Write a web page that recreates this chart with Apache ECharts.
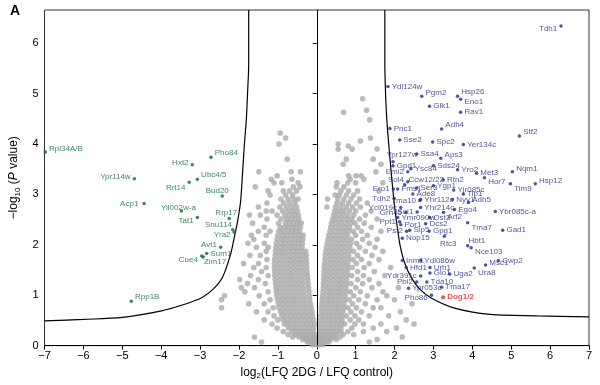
<!DOCTYPE html>
<html><head><meta charset="utf-8">
<script src="https://cdn.jsdelivr.net/npm/echarts@6/dist/echarts.min.js"></script>
<style>html,body{margin:0;padding:0;background:#fff}#c{width:600px;height:385px}</style>
</head><body><div id="c"></div>
<script>
// ---------- DATA ----------
const xTicks = [-7,-6,-5,-4,-3,-2,-1,0,1,2,3,4,5,6,7];
const yTicks = [0,1,2,3,4,5,6];

// threshold curves
const curveLeft = [[-1.75,6.66],[-1.75,5.6],[-1.78,5.0],[-1.81,4.5],[-1.86,4.0],[-1.91,3.4],[-1.96,2.85],[-2.04,2.45],[-2.12,2.15],[-2.22,1.8],[-2.42,1.36],[-2.65,1.13],[-2.96,0.95],[-3.48,0.80],[-3.99,0.69],[-5.0,0.56],[-6.0,0.52],[-7.0,0.49]];
const curveRight = [[1.75,6.66],[1.75,5.6],[1.77,5.0],[1.80,4.5],[1.85,4.0],[1.93,3.3],[2.01,2.7],[2.08,2.3],[2.15,1.96],[2.27,1.62],[2.44,1.34],[2.65,1.12],[2.93,0.95],[3.52,0.75],[4.46,0.62],[5.67,0.59],[7.0,0.57]];

// non-significant proteins, rows: [y, x1, x2, ...]
const grayRows = [
[0.02,-0.12,-0.05,0.02,0.09,0.15],
[0.07,-0.24,-0.16,-0.08,0.0,0.07,0.15,0.23,0.31,1.35,-1.42],
[0.12,-0.36,-0.27,-0.18,-0.09,0.0,0.09,0.18,0.27,0.36,0.50,1.55],
[0.17,-0.46,-0.36,-0.26,-0.16,-0.06,0.05,0.14,0.24,0.34,0.44,-0.62,0.60,2.2,-1.6],
[0.22,-0.56,-0.46,-0.35,-0.25,-0.14,-0.04,0.08,0.18,0.29,0.39,0.50,-0.74,0.68,0.95],
[0.28,-0.64,-0.53,-0.42,-0.31,-0.20,-0.09,0.08,0.19,0.30,0.41,0.52,0.62,-0.86,0.80,1.2,1.8],
[0.35,-0.73,-0.62,-0.51,-0.40,-0.29,-0.18,-0.08,0.07,0.18,0.29,0.40,0.51,0.62,-1.02,0.90,1.45,2.05],
[0.43,-0.83,-0.72,-0.60,-0.49,-0.38,-0.27,-0.16,-0.06,0.08,0.19,0.30,0.41,0.52,0.63,0.72,-1.15,0.98,1.20,1.65,2.5],
[0.51,-0.86,-0.75,-0.64,-0.53,-0.42,-0.31,-0.20,-0.08,0.10,0.21,0.32,0.43,0.54,0.65,-1.0,-1.35,0.86,1.08,2.3],
[0.59,-0.90,-0.79,-0.67,-0.56,-0.45,-0.34,-0.22,-0.11,0.10,0.21,0.32,0.43,0.54,0.65,0.76,-1.10,0.98,1.35,1.85],
[0.67,-0.93,-0.82,-0.70,-0.59,-0.48,-0.36,-0.24,-0.12,0.12,0.23,0.34,0.45,0.56,0.67,-1.25,-1.55,0.88,1.15,2.15],
[0.75,-0.97,-0.85,-0.73,-0.62,-0.50,-0.39,-0.27,-0.14,0.12,0.23,0.34,0.46,0.57,0.69,0.80,-1.12,1.02,1.45,1.65,-2.45],
[0.83,-0.99,-0.88,-0.76,-0.64,-0.53,-0.41,-0.29,-0.16,0.13,0.25,0.36,0.47,0.58,0.70,-1.35,-1.75,0.92,1.25,2.45],
[0.91,-1.01,-0.90,-0.78,-0.66,-0.55,-0.43,-0.31,-0.18,0.14,0.26,0.37,0.48,0.60,0.72,0.83,-1.20,1.08,1.55,2.0,-2.45],
[0.99,-1.03,-0.91,-0.80,-0.68,-0.56,-0.44,-0.32,-0.19,0.15,0.27,0.38,0.50,0.61,0.73,-1.48,-2.37,0.95,1.30,1.8],
[1.07,-1.04,-0.93,-0.81,-0.69,-0.57,-0.45,-0.33,-0.20,0.16,0.28,0.39,0.51,0.62,0.74,0.86,-1.25,-1.85,1.12,1.70],
[1.15,-1.05,-0.94,-0.82,-0.70,-0.58,-0.46,-0.34,-0.21,0.17,0.29,0.40,0.52,0.63,0.75,-1.60,-1.94,1.00,1.42,2.1],
[1.23,-1.06,-0.95,-0.83,-0.71,-0.59,-0.47,-0.35,-0.22,0.17,0.29,0.41,0.53,0.64,0.76,0.88,-1.32,-1.78,1.18,1.6],
[1.31,-1.07,-0.95,-0.83,-0.71,-0.60,-0.48,-0.36,-0.23,0.18,0.30,0.42,0.54,0.65,0.77,-1.50,-1.98,1.05,1.35],
[1.39,-1.08,-0.96,-0.84,-0.72,-0.60,-0.48,-0.36,-0.24,0.18,0.30,0.42,0.54,0.66,0.78,0.90,-1.25,-1.70,1.20,1.75],
[1.47,-1.08,-0.96,-0.84,-0.72,-0.61,-0.49,-0.37,-0.25,0.19,0.31,0.43,0.55,0.67,0.79,-1.42,1.05,1.48],
[1.55,-1.09,-0.97,-0.85,-0.73,-0.61,-0.49,-0.37,-0.26,0.19,0.31,0.43,0.55,0.67,0.79,0.91,-1.30,-1.62,1.22,1.9],
[1.63,-1.09,-0.97,-0.85,-0.73,-0.61,-0.49,-0.38,-0.26,0.20,0.32,0.44,0.56,0.68,0.80,-1.50,-1.88,1.02,1.35],
[1.71,-1.08,-0.96,-0.84,-0.72,-0.61,-0.49,-0.38,-0.27,0.21,0.33,0.45,0.57,0.69,0.81,0.93,-1.28,1.15,1.6],
[1.79,-1.07,-0.95,-0.84,-0.72,-0.60,-0.49,-0.38,-0.27,0.22,0.34,0.46,0.58,0.70,0.82,-1.45,-1.72,1.05,1.42],
[1.87,-1.06,-0.94,-0.83,-0.71,-0.60,-0.49,-0.38,-0.28,0.23,0.35,0.47,0.59,0.71,0.83,0.95,-1.30,1.25,1.7],
[1.95,-1.05,-0.93,-0.82,-0.70,-0.59,-0.48,-0.38,0.25,0.37,0.49,0.61,0.73,0.85,-1.55,-1.25,1.10,1.5],
[2.03,-1.04,-0.92,-0.81,-0.69,-0.58,-0.47,-0.37,0.27,0.39,0.51,0.63,0.75,0.87,-1.35,1.02,1.35,-1.77],
[2.11,-1.02,-0.90,-0.79,-0.68,-0.57,-0.46,-0.36,0.29,0.41,0.53,0.65,0.77,0.89,-1.62,1.18,1.55],
[2.19,-1.00,-0.88,-0.77,-0.66,-0.56,-0.45,-0.35,0.31,0.43,0.55,0.67,0.79,-1.30,1.00,1.30,-1.68],
[2.27,-0.97,-0.86,-0.75,-0.64,-0.54,-0.44,0.34,0.46,0.58,0.70,0.82,0.94,-1.50,-1.20,1.15,1.65],
[2.35,-0.94,-0.83,-0.72,-0.62,-0.52,-0.42,0.36,0.48,0.60,0.72,0.84,-1.35,1.05,1.40],
[2.43,-0.98,-0.80,-0.70,-0.59,-0.49,-0.40,0.38,0.50,0.62,0.74,0.86,0.98,-1.65,1.22],
[2.51,-0.92,-0.78,-0.67,-0.56,-0.46,0.41,0.53,0.65,0.78,0.90,-1.28,1.10,1.55],
[2.59,-1.02,-0.82,-0.70,-0.58,-0.47,0.44,0.56,0.68,0.80,0.95,-1.45,1.25,-1.73],
[2.67,-0.88,-0.74,-0.62,-0.50,0.46,0.58,0.70,0.84,1.00,-1.30,-1.15,1.40],
[2.75,-0.95,-0.78,-0.64,-0.52,0.48,0.62,0.76,0.92,-1.50,1.12,0.26],
[2.83,-0.85,-0.70,-0.56,0.52,0.66,0.82,1.02,-1.28,1.30],
[2.91,-0.92,-0.74,-0.60,-0.48,0.54,0.70,0.88,1.10,0.28],
[2.99,-0.80,-0.62,0.58,0.76,0.95,-1.20,0.47],
[3.07,-0.86,-0.70,-0.52,0.62,0.82,1.05,-1.25,1.60],
[3.15,-0.60,0.50,0.70,-1.58,-0.43],
[3.23,-0.90,-0.48,0.80,1.00,-1.10,0.52,1.70],
[3.30,-0.64,0.86,1.21,-1.17],
[3.37,-1.02,0.82,1.01,1.14],
[3.45,-0.66,-0.42,-1.49,1.52],
[3.60,0.68,1.65],
[3.70,-0.76,0.76,1.45],
[3.90,0.55,0.91,1.55],
[3.96,0.81],
[4.00,-0.97,0.55],
[4.06,1.12],
[4.12,-0.80,1.38],
[4.22,-0.94],
[4.48,1.36],
[4.63,0.69],
[4.67,1.28],
[4.90,1.18]
];

// significantly decreased (left)
const leftNames = ['Rpl34A/B','Ypr114w','Hxt2','Pho84','Ubc4/5','Rrt14','Bud20','Acp1','Yil002w-a','Tat1','Rrp17','Snu114','Yra2','Avt1','Sum1','Cue4','Zim17','Rpp1B'];
const leftX = [-6.98,-4.69,-3.20,-2.72,-3.07,-3.28,-2.43,-4.44,-3.48,-3.07,-2.25,-2.16,-2.12,-2.47,-2.83,-2.96,-2.92,-4.77];
const leftY = [3.84,3.31,3.59,3.74,3.30,3.24,2.97,2.82,2.67,2.54,2.52,2.30,2.25,1.95,1.83,1.78,1.76,0.88];

// significantly increased (right)
const rightNames = ['Tdh1','Ydl124w','Pgm2','Hsp26','Eno1','Glk1','Rav1','Adh4','Pnc1','Stf2','Sse2','Spc2','Yer134c','Ypr127w','Ssa4','Aps3','Gpd1','Ysc84','Sds24','Emi2','Yro2','Met3','Nqm1','Hor7','Tim9','Hsp12','Sol4','Ccw12/22','Rtn2','Ero1','Fms1','Ser3','Ygp1','Yjr085c','Tip1','Tdh2','Ade8','Tma10','Yhr112c','Nyv1','Adh5','Ycl019c','Yhr214c','Ego4','Ybr085c-a','Grh45','Sol1','Ost3','Arf2','Ppt1','Ymr090w','Por1','Dcs2','Tma7','Pst2','Sip5','Gpg1','Gad1','Nop15','Rtc3','Hbt1','Nce103','Cwp2','Msc1','Ura8','Inm1','Ydl086w','Hfd1','Urh1','Glo1','Uga2','Ydr391c','Pbi2','Tda10','Ypr053c','Tma17','Pho86'];
const rightX = [6.28,1.83,2.70,3.62,3.70,2.90,3.70,3.21,1.88,5.21,2.13,2.98,3.77,1.96,2.57,3.19,1.96,2.42,3.00,2.34,3.62,4.11,5.03,4.31,4.98,5.62,2.34,2.26,3.25,1.97,2.08,2.57,3.00,3.52,3.77,1.99,2.47,2.65,2.67,3.49,3.90,2.16,2.67,3.54,4.59,2.29,2.58,2.90,3.26,2.13,2.08,2.16,2.80,3.88,2.31,2.39,2.89,4.78,2.20,3.28,3.88,3.97,4.67,4.34,4.05,2.20,2.67,2.30,2.91,2.91,3.42,2.67,2.57,2.83,2.36,3.21,2.95];
const rightY = [6.34,5.14,4.95,4.95,4.89,4.75,4.63,4.30,4.31,4.16,4.08,4.04,3.99,3.65,3.80,3.72,3.57,3.51,3.57,3.45,3.49,3.42,3.45,3.33,3.21,3.21,3.25,3.19,3.29,3.11,3.11,3.13,3.17,3.09,3.01,2.92,3.01,2.88,2.90,2.90,2.84,2.74,2.74,2.70,2.66,2.64,2.65,2.54,2.64,2.46,2.54,2.40,2.42,2.44,2.27,2.29,2.27,2.29,2.13,2.17,1.98,1.94,1.69,1.60,1.54,1.69,1.69,1.55,1.55,1.44,1.42,1.38,1.26,1.26,1.14,1.16,1.00];

// highlighted protein
const dogNames = ['Dog1/2'];
const dogX = [3.25];
const dogY = [0.96];

// ---------- STYLE ----------
const FONT = '"Liberation Sans", Arial, Helvetica, sans-serif';
const place = { // [position, dx, dy]
 'Rpl34A/B':['right',0,-3],'Ypr114w':['left',0,-2],'Hxt2':['left',0,-2],'Pho84':['right',0,-4],'Ubc4/5':['right',0,-5],
 'Rrt14':['left',0,5],'Bud20':['top',-5,3],'Acp1':['left',-2,0],'Yil002w-a':['top',-3,4],'Tat1':['left',0,3],
 'Rrp17':['top',-3,2],'Snu114':['left',3,-5],'Yra2':['left',0,3],'Avt1':['left',0,-3],'Sum1':['right',0,0],
 'Cue4':['left',0,4],'Zim17':['right',-3,5],'Rpp1B':['right',0,-4],
 'Tdh1':['left',0,3],'Pgm2':['right',0,-3],'Hsp26':['right',0,-4],'Eno1':['right',0,3],'Adh4':['right',0,-4],
 'Stf2':['right',0,-4],'Ypr127w':['top',9,1],'Aps3':['right',0,-3],'Emi2':['left',0,0],'Nqm1':['right',0,-3],
 'Hor7':['right',0,4],'Tim9':['right',0,5],'Hsp12':['right',0,-3],'Sol4':['left',0,-2],'Ccw12/22':['right',0,-5],
 'Ero1':['left',0,0],'Tdh2':['left',0,0],'Tma10':['left',0,0],'Adh5':['right',0,-3],'Ycl019c':['left',0,0],
 'Grh45':['left',0,0],'Sol1':['left',0,0],'Arf2':['right',0,4],'Ppt1':['left',0,0],'Tma7':['right',0,5],
 'Pst2':['left',0,0],'Rtc3':['bottom',4,0],'Hbt1':['right',-3,-5],'Nce103':['right',0,4],'Msc1':['right',0,-2],
 'Ura8':['right',0,5],'Ydr391c':['left',0,0],'Pbi2':['left',0,0],'Pho86':['left',0,3]
};
function build(names, xs, ys){
  return names.map((n,i)=>{
    const p = place[n] || ['right',0,0];
    return {name:n, value:[xs[i], ys[i]], label:{position:p[0], offset:[p[1],p[2]]}};
  });
}
const grayData = [];
grayRows.forEach(r => { for (let k=1;k<r.length;k++) grayData.push([r[k], r[0]]); });

const minus = v => String(v).replace('-', '\u2212');

const chart = echarts.init(document.getElementById('c'), null, {renderer:'canvas'});
const lblBase = (color, bold) => ({show:true, formatter:'{b}', fontSize:8, fontFamily:FONT, color:color, distance:2, fontWeight: bold?'bold':'normal'});
chart.setOption({
  animation:false,
  backgroundColor:'#fff',
  grid:{left:41, right:11, top:10, bottom:37, show:true, borderColor:'#333', borderWidth:1},
  graphic:[{type:'text', left:10, top:4, style:{text:'A', font:'bold 14px '+FONT, fill:'#000'}}],
  xAxis:{type:'value', min:xTicks[0], max:xTicks[xTicks.length-1], interval:1,
    name:'{a|log}{s|2}{a|(LFQ 2DG / LFQ control)}', nameLocation:'middle', nameGap:19,
    nameTextStyle:{rich:{a:{fontSize:12,fontFamily:FONT,color:'#000'}, s:{fontSize:8,fontFamily:FONT,color:'#000',padding:[7,0,0,0]}}},
    axisLine:{lineStyle:{color:'#000',width:1}}, axisTick:{length:4, lineStyle:{color:'#000'}},
    axisLabel:{fontSize:11, fontFamily:FONT, color:'#000', margin:5, formatter:minus},
    splitLine:{show:false}},
  yAxis:{type:'value', min:yTicks[0], max:6.66, interval:1,
    name:'{a|\u2212log}{s|10}{a| (}{i|P}{a| value)}', nameLocation:'middle', nameGap:20, nameRotate:90,
    nameTextStyle:{rich:{a:{fontSize:12,fontFamily:FONT,color:'#000'}, i:{fontSize:12,fontFamily:FONT,fontStyle:'italic',color:'#000'}, s:{fontSize:8,fontFamily:FONT,color:'#000',padding:[7,0,0,0]}}},
    axisLine:{show:true, lineStyle:{color:'#000',width:1}}, axisTick:{show:true, length:4, lineStyle:{color:'#000'}},
    axisLabel:{fontSize:11, fontFamily:FONT, color:'#000', margin:6, showMaxLabel:false},
    splitLine:{show:false}},
  series:[
    {type:'scatter', data:grayData, symbolSize:5.6, itemStyle:{color:'#aaaaaa'}, silent:true, z:1,
     markLine:{silent:true, symbol:'none', label:{show:false}, lineStyle:{color:'#000', width:1, type:'solid'}, data:[{xAxis:0}]}},
    {type:'line', data:curveLeft, showSymbol:false, smooth:0.3, lineStyle:{color:'#000', width:1.2}, z:3, silent:true},
    {type:'line', data:curveRight, showSymbol:false, smooth:0.3, lineStyle:{color:'#000', width:1.2}, z:3, silent:true},
    {type:'scatter', data:build(leftNames,leftX,leftY), symbolSize:3.5, itemStyle:{color:'#0f6a34'}, label:lblBase('#0f6a34'), z:5},
    {type:'scatter', data:build(rightNames,rightX,rightY), symbolSize:3.5, itemStyle:{color:'#232a82'}, label:lblBase('#232a82'), z:5},
    {type:'scatter', data:build(dogNames,dogX,dogY), symbolSize:4, itemStyle:{color:'#e3262d'}, label:lblBase('#e3262d', true), z:6}
  ]
});
</script></body></html>
